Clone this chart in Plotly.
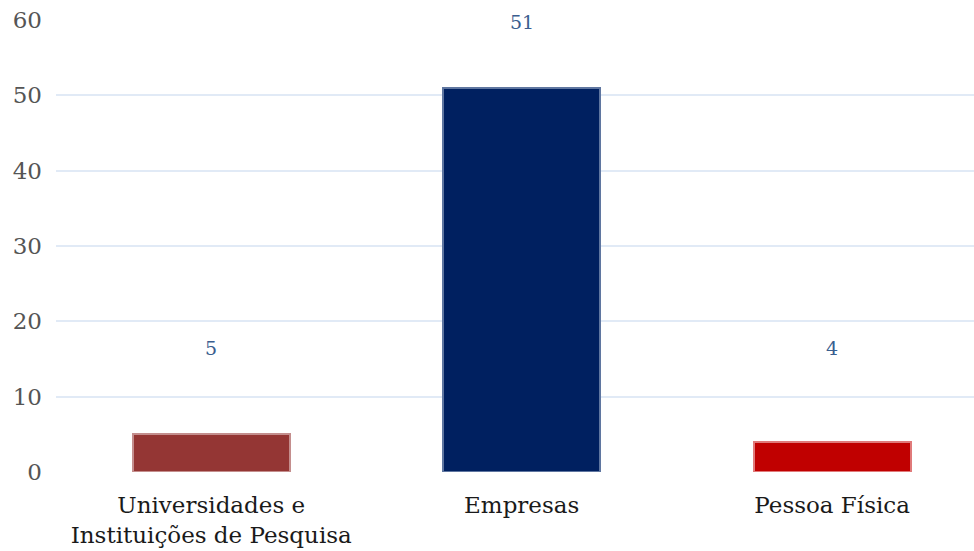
import plotly.graph_objects as go

categories = ["Universidades e<br>Instituições de Pesquisa", "Empresas", "Pessoa Física"]
values = [5, 51, 4]
label_heights = [16.5, 59.8, 16.5]
y_ticks = [0, 10, 20, 30, 40, 50, 60]

fill_colors = ["#943634", "#002060", "#C00000"]
line_colors = ["#C48E8D", "#5F76A0", "#E07A7A"]

SERIF = "DejaVu Serif"

fig = go.Figure()
fig.add_trace(go.Bar(
    x=list(range(len(categories))),
    y=values,
    width=0.505,
    marker=dict(color=fill_colors, line=dict(color=line_colors, width=2)),
    hoverinfo="skip",
))

for i, (v, h) in enumerate(zip(values, label_heights)):
    fig.add_annotation(
        x=i, y=h, text=str(v), showarrow=False,
        font=dict(family=SERIF, size=19, color="#3A5E8F"),
        xanchor="center", yanchor="middle",
    )

fig.update_layout(
    width=974, height=551,
    margin=dict(l=56, r=0, t=20, b=79, autoexpand=False),
    paper_bgcolor="white", plot_bgcolor="white",
    showlegend=False,
    bargap=0,
)
fig.update_xaxes(
    range=[-0.5, 2.457], automargin=False,
    tickmode="array", tickvals=list(range(len(categories))), ticktext=categories,
    tickfont=dict(family=SERIF, size=23, color="#1a1a1a"),
    showgrid=False, zeroline=False, showline=False, ticks="",
    ticklabelstandoff=17,
)
fig.update_yaxes(
    range=[0, 60], tickvals=y_ticks, automargin=False,
    tickfont=dict(family=SERIF, size=23, color="#555555"),
    showgrid=True, gridcolor="#E1EAF6", gridwidth=2,
    zeroline=False, showline=False, ticks="",
    ticklabelstandoff=13,
)

fig.write_html("out.html")
